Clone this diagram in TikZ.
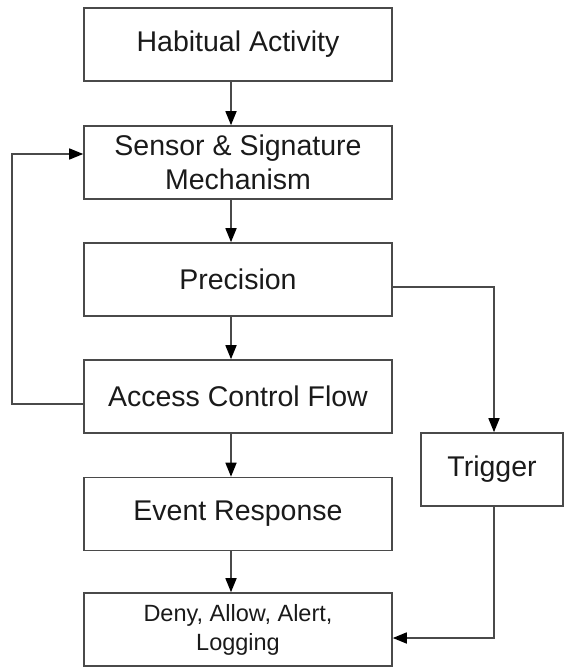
\documentclass[tikz,border=0pt]{standalone}
\usepackage{fontspec}
\setmainfont{Liberation Sans}
\usetikzlibrary{arrows.meta,calc}
\definecolor{linegray}{HTML}{4A4A4A}
\definecolor{textgray}{HTML}{1A1A1A}
\begin{document}
\begin{tikzpicture}[x=1pt,y=-1pt,
  box/.style={draw=linegray,line width=1.6pt,rectangle,minimum width=308pt,minimum height=73pt,
    inner sep=0pt,align=center,text=textgray,font=\fontsize{28.5}{34}\selectfont},
  arr/.style={draw=linegray,line width=1.6pt,-{Triangle[length=14pt,width=11pt,fill=black,color=black]}},
  ln/.style={draw=linegray,line width=1.6pt}]
\useasboundingbox (0,0) rectangle (564,668);
\node[box] (b1) at (238,44.5) {Habitual Activity};
\node[box] (b2) at (238,162.5) {Sensor \& Signature\\Mechanism};
\node[box] (b3) at (238,279.5) {Precision};
\node[box] (b4) at (238,396.5) {Access Control Flow};
\node[box] (b5) at (238,514) {Event Response};
\node[box,font=\fontsize{23.5}{29}\selectfont] (b6) at (238,629.5) {Deny, Allow, Alert,\\Logging};
\node[box,minimum width=142pt] (tr) at (492,469.5) {Trigger};
\coordinate (col) at (231,0);
\coordinate (fb) at (12,0);
\coordinate (tc) at (494,0);
\draw[arr] (b1.south -| col) -- (b2.north -| col);
\draw[arr] (b2.south -| col) -- (b3.north -| col);
\draw[arr] (b3.south -| col) -- (b4.north -| col);
\draw[arr] (b4.south -| col) -- (b5.north -| col);
\draw[arr] (b5.south -| col) -- (b6.north -| col);
\coordinate (f1) at ($(b4.west)+(0,7.5)$);
\coordinate (f2) at ($(b2.west)+(0,-8.5)$);
\draw[arr] (f1) -- (f1 -| fb) -- (f2 -| fb) -- (f2);
\coordinate (p1) at ($(b3.east)+(0,7.5)$);
\draw[arr] (p1) -- (p1 -| tc) -- (tr.north -| tc);
\coordinate (d1) at ($(b6.east)+(0,8.5)$);
\draw[arr] (tr.south -| tc) -- (d1 -| tc) -- (d1);
\end{tikzpicture}
\end{document}
